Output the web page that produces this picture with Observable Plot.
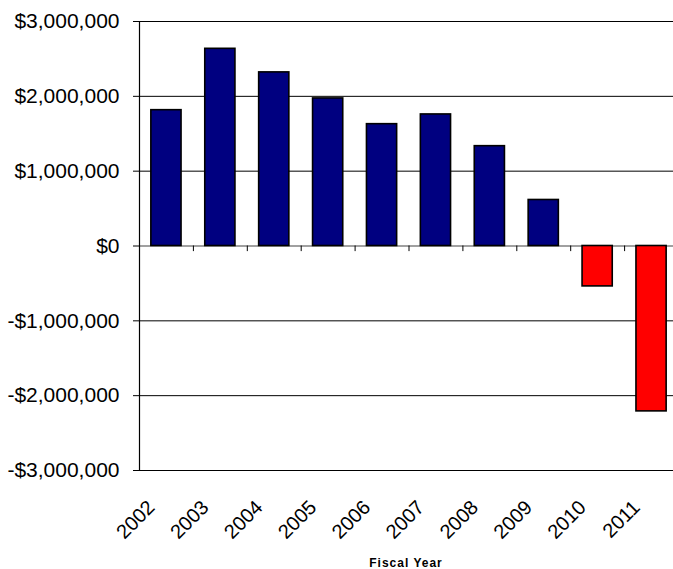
<!DOCTYPE html>
<html>
<head>
<meta charset="utf-8">
<script src="https://cdn.jsdelivr.net/npm/d3@7"></script>
<script src="https://cdn.jsdelivr.net/npm/@observablehq/plot@0.6"></script>
<style>
  html, body { margin: 0; padding: 0; background: #fff; overflow: hidden; }
  /* keep the SVG at its natural size; the last band runs past the window edge */
  #chart svg { display: block; max-width: none !important; }
</style>
</head>
<body>
<div id="chart"></div>
<script>
// Fiscal years and the net balance for each year (dollars)
const years = ["2002", "2003", "2004", "2005", "2006", "2007", "2008", "2009", "2010", "2011"];
const balances = [1815000, 2635000, 2320000, 1972000, 1628000, 1758000, 1334000, 615000, -540000, -2210000];
const yTicks = [-3000000, -2000000, -1000000, 0, 1000000, 2000000, 3000000];
const xTitle = "Fiscal Year";

const data = years.map((year, i) => ({year, value: balances[i]}));

const W = 678, H = 569;
const mL = 139, mR = 0, mT = 21, mB = 99;
const step = (W - mL - mR) / years.length;

const money = d => (d < 0 ? "-" : "") + "$" + d3.format(",")(Math.abs(d));

const chart = Plot.plot({
  width: W,
  height: H,
  marginLeft: mL,
  marginRight: mR,
  marginTop: mT,
  marginBottom: mB,
  style: {fontFamily: "'Liberation Sans', Arial, sans-serif", fontSize: "20px", color: "#000", background: "#fff"},
  x: {type: "band", domain: years, paddingInner: 0.44, paddingOuter: 0.22, round: false},
  y: {domain: [-3000000, 3000000]},
  color: {type: "identity"},
  marks: [
    // horizontal gridlines
    Plot.ruleY(yTicks.filter(d => d !== 0), {stroke: "#000", strokeWidth: 1}),
    // zero baseline
    Plot.ruleY([0], {stroke: "#808080", strokeWidth: 1.5}),
    // category boundary ticks just below the baseline
    Plot.ruleX(years.slice(1), {x: d => d, y1: 0, y2: -75000, dx: -step / 2, stroke: "#000"}),
    // value axis line on the left edge
    Plot.ruleX([years[0]], {x: d => d, y1: -3000000, y2: 3000000, dx: -step / 2, stroke: "#000", strokeWidth: 1.2}),
    Plot.barY(data, {
      x: "year",
      y: "value",
      fill: d => d.value < 0 ? "#ff0000" : "#000080",
      stroke: "#000",
      strokeWidth: 1.6
    }),
    Plot.axisY({ticks: yTicks, tickFormat: money, tickSize: 6, tickPadding: 14, fontSize: 21, label: null}),
    Plot.axisX({tickRotate: -45, tickSize: 0, tickPadding: 33.5, fontSize: 20, label: null, dx: -15}),
    Plot.text([xTitle], {
      frameAnchor: "bottom",
      dy: 92.5,
      dx: -3,
      fontSize: 12,
      fontWeight: "bold",
      lineAnchor: "middle",
      text: d => d
    })
  ]
});

d3.select(chart).selectAll("text")
  .filter(function () { return this.textContent === xTitle; })
  .style("letter-spacing", "1px");

document.getElementById("chart").appendChild(chart);
</script>
</body>
</html>
